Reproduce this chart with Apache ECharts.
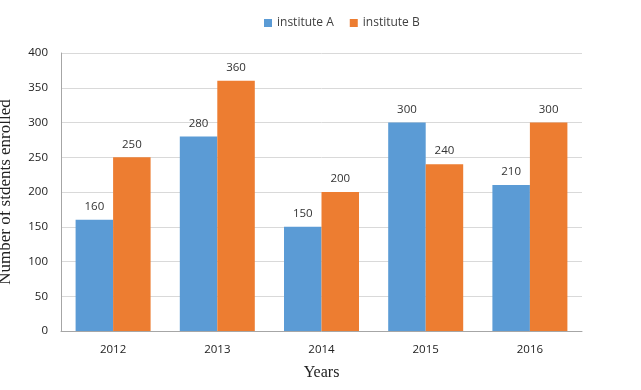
<!DOCTYPE html>
<html><head><meta charset="utf-8">
<script src="https://cdn.jsdelivr.net/npm/echarts@6/dist/echarts.min.js"></script>
<style>html,body{margin:0;padding:0;background:#fff}#c{width:641px;height:390px}</style>
</head><body><div id="c"></div>
<script>
const categories = ['2012','2013','2014','2015','2016'];
const instituteA = [160, 280, 150, 300, 210];
const instituteB = [250, 360, 200, 240, 300];
const seriesNames = ['institute A', 'institute B'];

const chart = echarts.init(document.getElementById('c'));
const labelStyle = {show: true, position: 'top', distance: 7, color: '#333', fontSize: 11.5, fontFamily: 'Open Sans'};
chart.setOption({
  animation: false,
  color: ['#5B9BD5', '#ED7D31'],
  legend: {
    top: 12, left: 259, itemWidth: 8, itemHeight: 8, itemGap: 16,
    icon: 'rect',
    textStyle: {color: '#404040', fontSize: 12, fontFamily: 'Open Sans'},
    data: seriesNames
  },
  grid: {left: 61, right: 59, top: 53, bottom: 59, containLabel: false, outerBoundsMode: 'none'},
  xAxis: {
    type: 'category', data: categories,
    name: 'Years', nameLocation: 'middle', nameGap: 34,
    nameTextStyle: {fontFamily: 'Liberation Serif', fontSize: 16, color: '#222'},
    axisLine: {lineStyle: {color: '#A6A6A6'}},
    axisTick: {show: false},
    axisLabel: {color: '#222', fontSize: 11.5, fontFamily: 'Open Sans', margin: 13}
  },
  yAxis: {
    type: 'value', min: 0, max: 400, interval: 50,
    name: 'Number of stdents enrolled', nameLocation: 'middle', nameGap: 47,
    nameTextStyle: {fontFamily: 'Liberation Serif', fontSize: 17, color: '#222'},
    axisLine: {show: true, lineStyle: {color: '#A6A6A6'}},
    axisTick: {show: false},
    axisLabel: {color: '#222', fontSize: 11.5, fontFamily: 'Open Sans', margin: 13},
    splitLine: {lineStyle: {color: '#D9D9D9'}}
  },
  series: [
    {name: seriesNames[0], type: 'bar', data: instituteA, barWidth: 37.5, barGap: '0%', label: labelStyle},
    {name: seriesNames[1], type: 'bar', data: instituteB, barWidth: 37.5, barGap: '0%', label: labelStyle}
  ]
});
</script></body></html>
